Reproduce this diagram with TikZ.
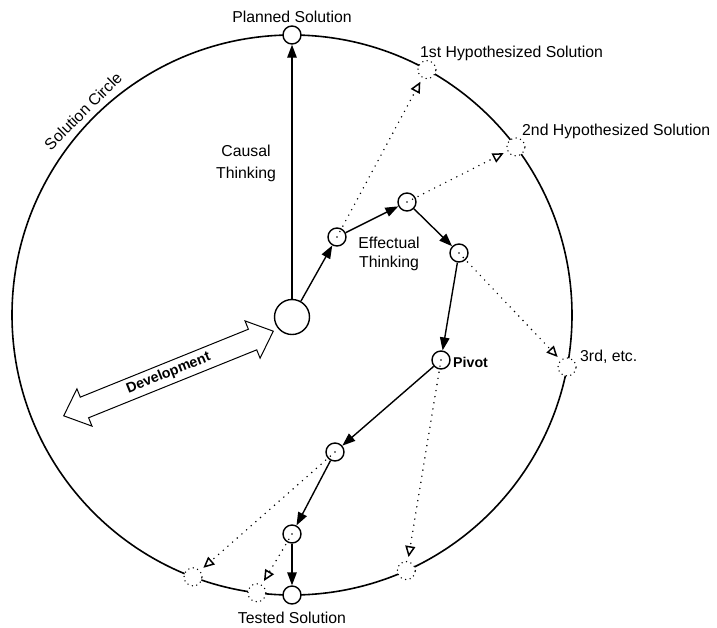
\documentclass[tikz,border=0pt]{standalone}
\usepackage{fontspec}
\setmainfont{Liberation Sans}
\usetikzlibrary{arrows.meta,shapes.arrows}
\begin{document}
\begin{tikzpicture}[x=1pt,y=-1pt,
  ring/.style={line width=1.6pt},
  stage/.style={circle,draw,fill=white,line width=1.4pt,minimum size=18pt,inner sep=0pt},
  origin/.style={stage,minimum size=35pt},
  goal/.style={circle,draw,fill=white,line width=1.5pt,line cap=round,
    dash pattern=on 0pt off 4.6pt,minimum size=18pt,inner sep=0pt},
  move/.style={line width=1.4pt,-{Triangle[length=13pt,width=9.5pt]}},
  guess/.style={line width=1.6pt,line cap=round,dash pattern=on 0pt off 6.2pt,
    -{Triangle[open,length=11pt,width=10pt,line width=1.5pt]},shorten >=4pt},
  lbl/.style={font=\fontsize{15.8}{19}\selectfont,inner sep=0pt},
  boldlbl/.style={font=\bfseries\fontsize{14.2}{16}\selectfont,inner sep=0pt}
]
\useasboundingbox (0,0) rectangle (717,627);

% the solution circle
\coordinate (O) at (292,315);
\draw[ring] (O) circle[radius=280pt];
\node[lbl,rotate=45] (circlelbl) at (83,111) {Solution Circle};

% hypothesized end points on the circle
\node[goal] (h1) at (426.9,69.6) {};
\node[goal] (h2) at (515.9,146.9) {};
\node[goal] (h3) at (567.1,367.0) {};
\node[goal] (d3) at (406.3,570.6) {};
\node[goal] (d2) at (256.9,592.8) {};
\node[goal] (d1) at (193.0,576.9) {};

% path of the venture
\node[origin] (start) at (292,317) {};
\node[stage] (planned) at (292,35) {};
\node[stage] (a1) at (337,237) {};
\node[stage] (a2) at (407,202) {};
\node[stage] (a3) at (459,253) {};
\node[stage] (pivot) at (441,360) {};
\node[stage] (b1) at (335,452) {};
\node[stage] (b2) at (292,534) {};
\node[stage] (tested) at (292,595) {};

\draw[move] (start) -- (planned);
\draw[move] (start) -- (a1);
\draw[move] (a1) -- (a2);
\draw[move] (a2) -- (a3);
\draw[move] (a3) -- (pivot);
\draw[move] (pivot) -- (b1);
\draw[move] (b1) -- (b2);
\draw[move] (b2) -- (tested);

% alternative outcomes
\draw[guess] (a1.center) -- (h1);
\draw[guess] (a2.center) -- (h2);
\draw[guess] (a3.center) -- (h3);
\draw[guess] (pivot.center) -- (d3);
\draw[guess] (b1.center) -- (d1);
\draw[guess] (b2.center) -- (d2);

% labels
\node[lbl,anchor=base] (plannedlbl) at (292,22) {Planned Solution};
\node[lbl,anchor=base west] (h1lbl) at (420,57) {1st Hypothesized Solution};
\node[lbl,anchor=base west] (h2lbl) at (522,135) {2nd Hypothesized Solution};
\node[lbl,anchor=base west] (h3lbl) at (580,361) {3rd, etc.};
\node[lbl,anchor=base] (testedlbl) at (292,623) {Tested Solution};
\node[lbl,anchor=base] (causal1) at (246,156) {Causal};
\node[lbl,anchor=base] (causal2) at (246,178) {Thinking};
\node[lbl,anchor=base] (eff1) at (389,248) {Effectual};
\node[lbl,anchor=base] (eff2) at (389,267) {Thinking};
\node[boldlbl,anchor=base west] (pivotlbl) at (453,367) {Pivot};

% development arrow
\node[boldlbl,double arrow,draw,line width=1pt,rotate=22,minimum height=226pt,
  double arrow head extend=9pt,double arrow tip angle=84,inner xsep=3pt,inner ysep=4pt]
  (dev) at (168.5,373.5) {Development};
\end{tikzpicture}
\end{document}
